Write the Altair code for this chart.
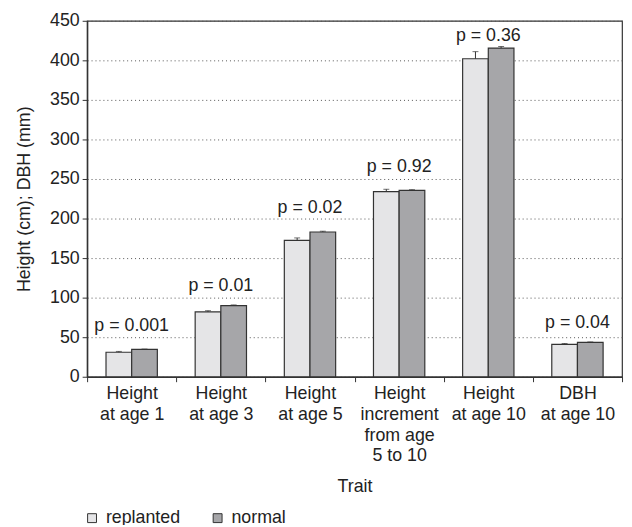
import altair as alt
import pandas as pd

categories = ["Height|at age 1", "Height|at age 3", "Height|at age 5",
              "Height|increment|from age|5 to 10", "Height|at age 10", "DBH|at age 10"]
groups = ["replanted", "normal"]
replanted = [31, 82, 172.5, 234, 402, 41]
normal = [34.5, 90, 183, 235.5, 415.5, 43.5]
rep_err = [1, 1.5, 3, 3, 9, 1]
nor_err = [0.5, 0.8, 1, 1, 2, 0.5]
p_labels = ["p = 0.001", "p = 0.01", "p = 0.02", "p = 0.92", "p = 0.36", "p = 0.04"]
p_y = [64.5, 115, 213, 264.5, 431, 67.5]
y_ticks = [0, 50, 100, 150, 200, 250, 300, 350, 400, 450]

rows = []
for i, c in enumerate(categories):
    rows.append({"Trait": c, "group": "replanted", "value": replanted[i], "top": replanted[i] + rep_err[i]})
    rows.append({"Trait": c, "group": "normal", "value": normal[i], "top": normal[i] + nor_err[i]})
df = pd.DataFrame(rows)
lab = pd.DataFrame({"Trait": categories, "label": p_labels, "value": p_y})

FONT = "Liberation Sans"
TXT = "#222222"
FS = 18

x = alt.X("Trait:N", sort=categories, title="Trait",
          scale=alt.Scale(paddingInner=0, paddingOuter=0),
          axis=alt.Axis(labelExpr="isValid(datum.value) ? split(datum.value, '|') : ''",
                        labelAngle=0, labelLineHeight=21, labelFontSize=FS,
                        labelPadding=3, labelFont=FONT, labelColor=TXT,
                        tickBand="extent", tickSize=5, tickColor="#333",
                        domainColor="#333", domainWidth=1.5, titleFontSize=FS,
                        titleFont=FONT, titleFontWeight="normal", titleColor=TXT,
                        titleY=102, titleBaseline="top"))
xo = alt.XOffset("group:N", sort=groups,
                 scale=alt.Scale(paddingInner=0, paddingOuter=0.737))
yaxis = alt.Axis(values=y_ticks, tickSize=5, tickColor="#333",
                 domainColor="#333", domainWidth=1.5,
                 grid=True, gridDash=[1, 3], gridColor="#555",
                 labelFontSize=FS, labelFont=FONT, labelColor=TXT,
                 labelPadding=3, titleFontSize=FS, titleFont=FONT,
                 titleFontWeight="normal", titleColor=TXT, titlePadding=16)
yscale = alt.Scale(domain=[0, 450], nice=False)
y = alt.Y("value:Q", title="Height (cm); DBH (mm)", scale=yscale, axis=yaxis)

color = alt.Color("group:N", sort=groups,
                  scale=alt.Scale(domain=groups, range=["#e5e5e7", "#a6a6a9"]),
                  legend=alt.Legend(title=None, orient="none", legendX=-4,
                                    legendY=494, direction="horizontal",
                                    symbolType="square", symbolSize=81,
                                    symbolStrokeColor="#333",
                                    symbolStrokeWidth=1, labelFontSize=FS,
                                    labelFont=FONT, labelColor=TXT,
                                    labelOffset=5, columnPadding=28))

bars = alt.Chart(df).mark_bar(stroke="#333", strokeWidth=1.2).encode(
    x=x, xOffset=xo, y=y, color=color)
err = alt.Chart(df).mark_rule(color="#333", strokeWidth=1).encode(
    x=x, xOffset=xo, y=y, y2="top:Q")
cap = alt.Chart(df).mark_tick(color="#333", size=6, thickness=1).encode(
    x=x, xOffset=xo,
    y=alt.Y("top:Q", title="Height (cm); DBH (mm)", scale=yscale, axis=yaxis))
text = alt.Chart(lab).mark_text(fontSize=FS, font=FONT, color=TXT,
                                baseline="middle").encode(
    x=x, y=y, text="label:N")

chart = alt.layer(bars, err, cap, text).properties(
    width=541, height=360,
    autosize=alt.AutoSizeParams(type="none"),
    padding={"left": 80, "top": 10, "right": 2, "bottom": 147},
).configure_view(stroke="#333", strokeWidth=1.2)

chart.save("out.html", embed_options={"renderer": "svg", "actions": False})
